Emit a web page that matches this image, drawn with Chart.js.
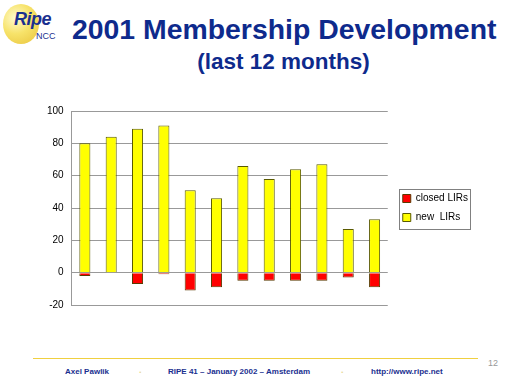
<!DOCTYPE html>
<html>
<head>
<meta charset="utf-8">
<script src="https://cdn.jsdelivr.net/npm/chart.js@4"></script>
<style>
  body { margin: 0; width: 512px; height: 384px; background: #fff; position: relative; overflow: hidden; font-family: "Liberation Sans", Arial, sans-serif; }
  .abs { position: absolute; }
  #logo { left: 3px; top: 4px; width: 36px; height: 40px; border-radius: 50%;
          background: radial-gradient(circle at 35% 35%, #fffbd0 0%, #f7e36a 45%, #e8c23a 100%); }
  #ripe { left: 14px; top: 9px; font: italic bold 18px "Liberation Sans", Arial, sans-serif; color: #1a2f8f; letter-spacing: -0.5px; }
  #ncc { left: 36px; top: 31px; font: 9px "Liberation Sans", Arial, sans-serif; color: #1a2f8f; }
  #title { left: 72px; top: 13px; font: bold 28.4px "Liberation Sans", Arial, sans-serif; color: #0e2a8c; white-space: nowrap; }
  #sub { left: 0; width: 567px; top: 49px; text-align: center; font: bold 22.5px "Liberation Sans", Arial, sans-serif; color: #0e2a8c; }
  #wrap { left: 30px; top: 97px; width: 450px; height: 222px; }
  #line { left: 33px; top: 358px; width: 445px; height: 1px; background: #f0d040; }
  .foot { top: 367px; font: bold 8px "Liberation Sans", Arial, sans-serif; color: #1a2f8f; white-space: nowrap; }
  .dot { top: 365px; font: bold 9px "Liberation Sans", Arial, sans-serif; color: #e8d890; }
  #page { left: 488px; top: 358px; font: 9px "Liberation Sans", Arial, sans-serif; color: #999; }
</style>
</head>
<body>
<div id="logo" class="abs"></div>
<div id="ripe" class="abs">Ripe</div>
<div id="ncc" class="abs">NCC</div>
<div id="title" class="abs">2001 Membership Development</div>
<div id="sub" class="abs">(last 12 months)</div>
<div id="wrap" class="abs"><canvas id="chart"></canvas></div>
<div id="line" class="abs"></div>
<div class="abs foot" style="left:65px">Axel Pawlik</div>
<div class="abs dot" style="left:139px">.</div>
<div class="abs foot" style="left:168px">RIPE 41 – January 2002 – Amsterdam</div>
<div class="abs dot" style="left:341px">.</div>
<div class="abs foot" style="left:371px">http://www.ripe.net</div>
<div id="page" class="abs">12</div>
<script>
const months = ['Jan', 'Feb', 'Mar', 'Apr', 'May', 'Jun', 'Jul', 'Aug', 'Sep', 'Oct', 'Nov', 'Dec'];
const newLIRs = [80, 84, 89, 91, 51, 46, 66, 58, 64, 67, 27, 33];
const closedLIRs = [-2, 0, -7, -1, -11, -9, -5, -5, -5, -5, -3, -9];
const yTicks = [-20, 0, 20, 40, 60, 80, 100];

// push the legend a bit away from the plot and frame it like the Excel one
const legendBox = {
    id: 'legendBox',
    afterLayout(chart) {
        chart.legend.left += 6;
        chart.legend.right += 6;
    },
    afterDraw(chart) {
        const lg = chart.legend;
        const hit = lg.legendHitBoxes;
        if (!hit || !hit.length) return;
        const ctx = chart.ctx;
        const x0 = lg.left + lg.options.labels.padding - 4;
        const y0 = Math.min(...hit.map(h => h.top)) - 5;
        const x1 = x0 + 4 + Math.max(...hit.map(h => h.width)) + 2;
        const y1 = Math.max(...hit.map(h => h.top + h.height)) + 6;
        ctx.save();
        ctx.strokeStyle = '#808080';
        ctx.lineWidth = 1;
        ctx.strokeRect(Math.round(x0) + 0.5, Math.round(y0) + 0.5, Math.round(x1 - x0), Math.round(y1 - y0));
        ctx.restore();
    }
};

new Chart(document.getElementById('chart'), {
    type: 'bar',
    data: {
        labels: months,
        datasets: [
            {
                label: 'closed LIRs',
                data: closedLIRs,
                backgroundColor: '#ff0000',
                borderColor: '#5a3a00',
                borderWidth: 1,
                barPercentage: 0.42,
                categoryPercentage: 1
            },
            {
                label: 'new  LIRs',
                data: newLIRs,
                backgroundColor: '#ffff00',
                borderColor: '#5a5a00',
                borderWidth: 1,
                barPercentage: 0.42,
                categoryPercentage: 1
            }
        ]
    },
    options: {
        responsive: true,
        maintainAspectRatio: false,
        animation: false,
        layout: { padding: { top: 6, bottom: 6, left: 9, right: 8 } },
        scales: {
            x: {
                stacked: true,
                grid: { display: false },
                border: { display: false },
                ticks: { display: false }
            },
            y: {
                stacked: true,
                min: -20,
                max: 100,
                afterBuildTicks: axis => { axis.ticks = yTicks.map(v => ({ value: v })); },
                grid: { color: '#999999', drawTicks: false },
                border: { color: '#999999' },
                ticks: {
                    padding: 8,
                    color: '#000',
                    font: { family: 'Liberation Sans', size: 10 }
                }
            }
        },
        plugins: {
            legend: {
                position: 'right',
                labels: {
                    boxWidth: 8,
                    boxHeight: 8,
                    padding: 9,
                    color: '#000',
                    font: { family: 'Liberation Sans', size: 10 }
                }
            },
            tooltip: { enabled: false }
        }
    },
    plugins: [legendBox]
});
</script>
</body>
</html>
